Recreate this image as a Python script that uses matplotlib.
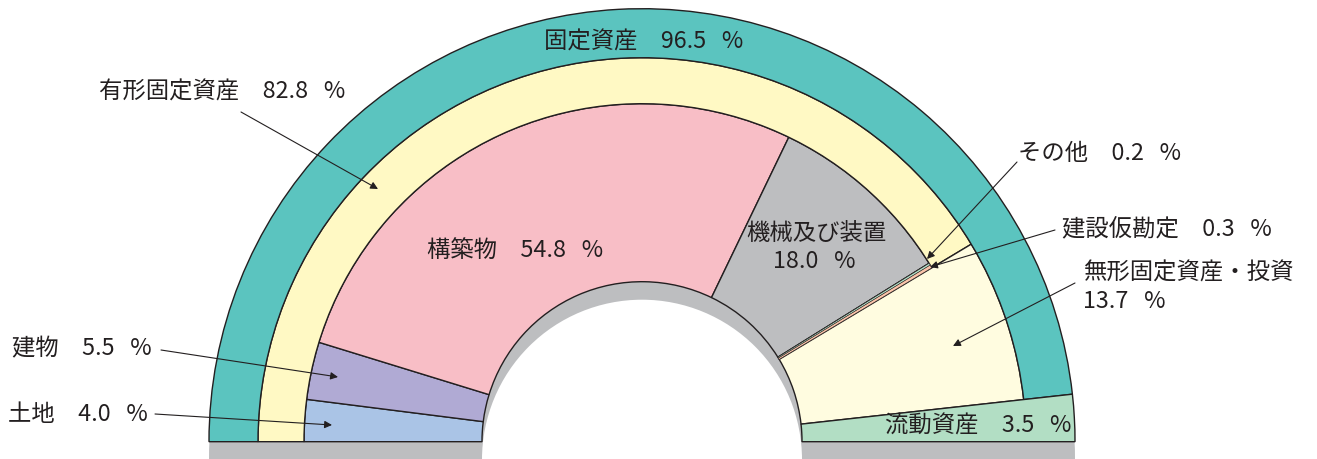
import matplotlib
matplotlib.use("Agg")
import matplotlib.pyplot as plt
from matplotlib.patches import Wedge

plt.rcParams['font.family'] = ['Noto Sans CJK JP', 'DejaVu Sans']

# ---- data ----
outer_labels = ['固定資産', '流動資産']
outer_values = [96.5, 3.5]
mid_labels = ['有形固定資産', '無形固定資産・投資']
mid_values = [82.8, 13.7]
inner_labels = ['土地', '建物', '構築物', '機械及び装置', 'その他', '建設仮勘定']
inner_values = [4.0, 5.5, 54.8, 18.0, 0.2, 0.3]

# ---- styles ----
W, H = 1317, 459
fig = plt.figure(figsize=(W / 100, H / 100), dpi=100)
ax = fig.add_axes([0, 0, 1, 1])
ax.set_xlim(0, W)
ax.set_ylim(0, H)
ax.set_aspect('equal')
ax.axis('off')


def Y(yp):
    return H - yp


cx, cy = 642, Y(441.7)
R0, R1, R2, R3 = 433, 384, 338, 160
EDGE = '#231f20'
TXT = '#231f20'
LW = 1.0
FS = 16.8

outer_colors = ['#5BC4BF', '#B2DEC4']
mid_colors = ['#FFF9C4', '#FFFCE0']
inner_colors = ['#AAC4E6', '#B0AAD4', '#F8BEC6', '#BDBEC0', '#B2E0C8', '#FAC4AA']


def ang(p):
    return 180 - p * 1.8


# shadow
ax.add_patch(Wedge((cx, cy - 18), R0, 0, 180, width=R0 - R3,
                   facecolor='#BDBEC0', edgecolor='none', zorder=1))

# inner ring
cum = 0
thin = []
for v, c in zip(inner_values, inner_colors):
    ax.add_patch(Wedge((cx, cy), R2, ang(cum + v), ang(cum), width=R2 - R3,
                       facecolor=c, edgecolor=EDGE, lw=LW, zorder=2))
    if v < 1:
        thin.append((cum, v, c))
    cum += v

# middle ring
cum = 0
for i, (v, c) in enumerate(zip(mid_values, mid_colors)):
    rin = R2 if i == 0 else R3
    ax.add_patch(Wedge((cx, cy), R1, ang(cum + v), ang(cum), width=R1 - rin,
                       facecolor=c, edgecolor=EDGE, lw=LW, zorder=2))
    cum += v

# outer ring
cum = 0
for i, (v, c) in enumerate(zip(outer_values, outer_colors)):
    rin = R1 if i == 0 else R3
    ax.add_patch(Wedge((cx, cy), R0, ang(cum + v), ang(cum), width=R0 - rin,
                       facecolor=c, edgecolor=EDGE, lw=LW, zorder=2))
    cum += v

# redraw very thin slices with fine outlines so their colour shows
for cum0, v, c in thin:
    ax.add_patch(Wedge((cx, cy), R2, ang(cum0 + v), ang(cum0), width=R2 - R3,
                       facecolor=c, edgecolor=EDGE, lw=0.35, zorder=3))

allv = dict(zip(outer_labels + mid_labels + inner_labels,
                outer_values + mid_values + inner_values))


def lab(name):
    return f"{name}\u3000{allv[name]:.1f}   %"


def txt(x, y, s, ha='center'):
    ax.text(x, Y(y), s, ha=ha, va='center', fontsize=FS, color=TXT, zorder=5)


def arrow(x0, y0, x1, y1):
    ax.annotate('', xy=(x1, Y(y1)), xytext=(x0, Y(y0)),
                arrowprops=dict(arrowstyle='-|>', color=EDGE, lw=0.8,
                                mutation_scale=11, shrinkA=0, shrinkB=0),
                zorder=6)


txt(643.5, 42, lab('固定資産'))
txt(222.5, 92, lab('有形固定資産'))
arrow(241, 112, 378, 189)
txt(515, 250, lab('構築物'))
txt(816.5, 233, '機械及び装置')
txt(814, 262, f"{allv['機械及び装置']:.1f}   %")
txt(1018, 154, lab('その他'), ha='left')
arrow(1017, 162, 927, 259)
txt(1062, 229, lab('建設仮勘定'), ha='left')
arrow(1055, 230, 930, 267)
txt(1083, 273, '無形固定資産・投資', ha='left')
txt(1083, 302, f"{allv['無形固定資産・投資']:.1f}   %", ha='left')
arrow(1075, 283, 953, 346)
txt(978, 426, lab('流動資産'))
txt(12, 349, lab('建物'), ha='left')
arrow(161, 350, 338, 377)
txt(8, 414.5, lab('土地'), ha='left')
arrow(155, 414, 332, 425)

fig.savefig('out.png', dpi=100)
